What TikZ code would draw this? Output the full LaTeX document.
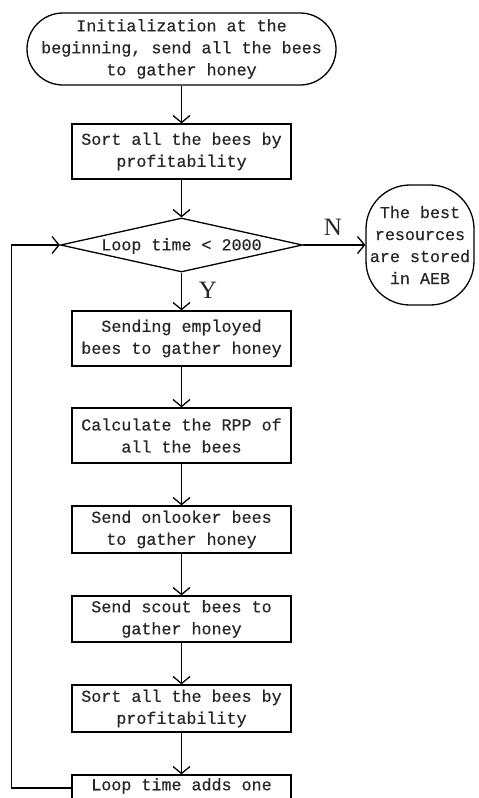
\documentclass[tikz,border=0pt]{standalone}
\usepackage{fontspec}
\setmainfont{Liberation Serif}
\setmonofont[FakeBold=0.5]{Liberation Mono}
\usetikzlibrary{arrows.meta,shapes.geometric}
\begin{document}
\begin{tikzpicture}[x=1pt,y=-1pt,
  txt/.style={font=\ttfamily\fontsize{16.7}{22}\selectfont, text=black!85, align=center, inner sep=0pt},
  stepbox/.style={txt, draw, line width=1.3pt, minimum width=219pt},
  term/.style={txt, draw, line width=1.3pt, rounded corners=36pt, minimum width=309pt, minimum height=72pt},
  endterm/.style={txt, draw, line width=1.3pt, rounded corners=44pt, minimum width=108pt, minimum height=120pt},
  decision/.style={draw, diamond, line width=1.3pt, inner sep=0pt, minimum width=242pt, minimum height=54pt},
  lbl/.style={font=\rmfamily\fontsize{25}{25}\selectfont, text=black!85, inner sep=0pt},
  arr/.style={line width=1.3pt, -{Straight Barb[length=7pt,width=17pt]}},
]
\useasboundingbox (0,0) rectangle (479,798);

\node[term] (start) at (181.5,49) {Initialization at the\\beginning, send all the bees\\to gather honey};
\node[stepbox, minimum height=55pt] (sort1) at (181.5,151.5) {Sort all the bees by\\profitability};
\node[decision] (dec) at (181.5,245) {};
\node[txt] (dectext) at (181.5,246) {Loop time < 2000};
\node[endterm] (fin) at (420,245) {The best\\resources\\are stored\\in AEB};
\node[stepbox, minimum height=55pt] (emp) at (181.5,338.5) {Sending employed\\bees to gather honey};
\node[stepbox, minimum height=55pt] (rpp) at (181.5,435.5) {Calculate the RPP of\\all the bees};
\node[stepbox, minimum height=47pt] (onl) at (181.5,529.5) {Send onlooker bees\\to gather honey};
\node[stepbox, minimum height=46pt] (sco) at (181.5,619) {Send scout bees to\\gather honey};
\node[stepbox, minimum height=47pt] (sort2) at (181.5,708.5) {Sort all the bees by\\profitability};
\node[stepbox, minimum height=47pt] (inc) at (181.5,798.5) {Loop time adds one\\\strut};

\node[lbl] (nlab) at (333,227) {N};
\node[lbl] (ylab) at (208,290) {Y};

\draw[arr] (start) -- (sort1);
\draw[arr] (sort1) -- (dec.north);
\draw[arr] (dec.east) -- (fin.west);
\draw[arr] (dec.south) -- (emp);
\draw[arr] (emp) -- (rpp);
\draw[arr] (rpp) -- (onl);
\draw[arr] (onl) -- (sco);
\draw[arr] (sco) -- (sort2);
\draw[arr] (sort2) -- (inc);
\draw[arr] ([yshift=10.5pt]inc.west) -- ++(-60,0) |- (dec.west);
\end{tikzpicture}
\end{document}
